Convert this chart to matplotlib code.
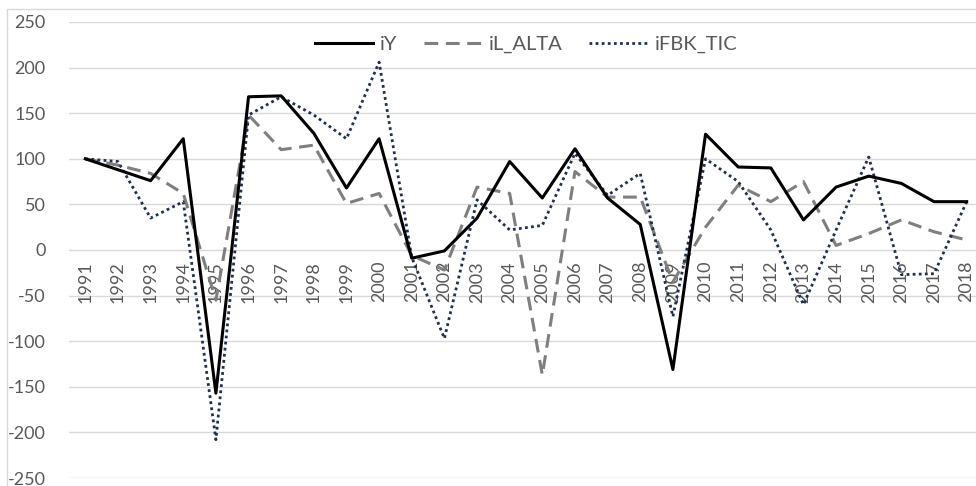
import matplotlib.pyplot as plt
from matplotlib import transforms
from matplotlib.patches import Rectangle

plt.rcParams['font.family'] = ['Lato', 'DejaVu Sans']
plt.rcParams['axes.unicode_minus'] = False

years = [str(y) for y in range(1991, 2019)]

iY = [100, 88, 76, 122, -157, 168, 169, 128, 68, 122,
      -9, -1, 35, 97, 57, 111, 57, 28, -131, 127,
      91, 90, 33, 69, 81, 73, 53, 53]
iL_ALTA = [100, 93, 84, 62, -55, 148, 110, 115, 51, 62,
           -6, -22, 69, 62, -137, 86, 58, 58, -35, 25,
           71, 53, 75, 5, 18, 33, 20, 11]
iFBK_TIC = [100, 97, 35, 53, -208, 148, 168, 148, 122, 206,
            -8, -97, 55, 22, 27, 106, 60, 84, -73, 100,
            75, 22, -60, 22, 102, -27, -26, 53]

yticks = list(range(-250, 251, 50))

fig = plt.figure(figsize=(9.76, 4.86), dpi=100)
ax = fig.add_axes([69 / 976, 8 / 486, 914 / 976, 456 / 486])

# chart frame (Excel style, cropped on right/bottom)
fig.patches.append(Rectangle((7 / 976, -0.1), 1.2, (486 - 9) / 486 + 0.1,
                             transform=fig.transFigure, fill=False,
                             edgecolor='#d9d9d9', linewidth=1))

x = list(range(len(years)))
ax.plot(x, iY, color='black', lw=2.2, label='iY', zorder=4)
ax.plot(x, iL_ALTA, color='#7f7f7f', lw=2.2, linestyle=(0, (4.5, 2.5)),
        label='iL_ALTA', zorder=3)
ax.plot(x, iFBK_TIC, color='#1f3050', lw=2.0, linestyle=(0, (1, 1.2)),
        label='iFBK_TIC', zorder=3)

ax.set_xlim(-0.5, len(years) - 0.5)
ax.set_ylim(-250, 250)
ax.set_yticks(yticks)
ax.set_xticks([])
ax.grid(axis='y', color='#d9d9d9', linewidth=1)
ax.set_axisbelow(True)
for s in ax.spines.values():
    s.set_visible(False)
ax.tick_params(axis='y', length=0, labelsize=13, labelcolor='#595959', pad=17)

# category labels sit on the zero line
off = transforms.offset_copy(ax.transData, fig=fig, x=0, y=-11, units='dots')
for i, lab in enumerate(years):
    ax.text(i, 0, lab, rotation=90, ha='center', va='top', fontsize=13,
            color='#595959', transform=off, zorder=2)

leg = ax.legend(loc='upper center', bbox_to_anchor=(0.5, 1.01), ncol=3,
                frameon=False, fontsize=14.5, handlelength=2.9,
                columnspacing=1.3, handletextpad=0.35)
for t in leg.get_texts():
    t.set_color('#595959')

fig.savefig('out.png', dpi=100)
